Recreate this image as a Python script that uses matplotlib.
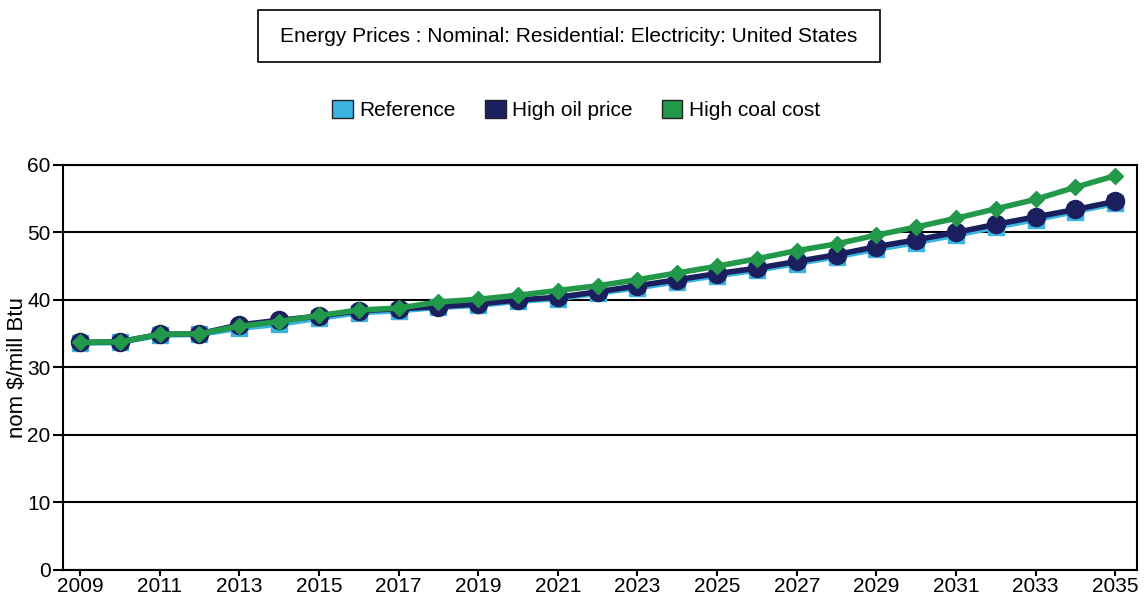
import matplotlib
matplotlib.use("Agg")
import matplotlib.pyplot as plt
from matplotlib import font_manager
from matplotlib.patches import Patch, Rectangle

plt.rcParams['font.family'] = ['Liberation Sans', 'DejaVu Sans']

# narrow face for the axis numbers if it is installed
installed = {f.name for f in font_manager.fontManager.ttflist}
if 'Liberation Sans Narrow' in installed:
    tick_font, tick_size = 'Liberation Sans Narrow', 17
else:
    tick_font, tick_size = 'Liberation Sans', 15

# Data (nom $/mill Btu)
years = list(range(2009, 2036))
reference = [33.6, 33.7, 34.8, 34.9, 35.8, 36.4, 37.3, 38.1, 38.4, 38.9, 39.2, 39.8, 40.2, 41.0,
             41.8, 42.7, 43.6, 44.4, 45.4, 46.4, 47.5, 48.5, 49.6, 50.8, 51.9, 53.1, 54.3]
high_oil = [33.7, 33.8, 34.9, 35.0, 36.3, 37.0, 37.6, 38.4, 38.7, 39.0, 39.4, 40.0, 40.4, 41.2,
            42.1, 43.0, 43.9, 44.7, 45.7, 46.7, 47.9, 48.9, 50.0, 51.2, 52.3, 53.4, 54.6]
high_coal = [33.7, 33.8, 34.9, 35.0, 36.1, 36.8, 37.7, 38.5, 38.8, 39.7, 40.1, 40.7, 41.4, 42.1,
             43.0, 44.0, 45.0, 46.1, 47.3, 48.3, 49.6, 50.8, 52.1, 53.5, 54.9, 56.7, 58.4]
series_names = ['Reference', 'High oil price', 'High coal cost']
colors = ['#3cb4e2', '#1b1f5e', '#22984a']

title = 'Energy Prices : Nominal: Residential: Electricity: United States'
ylabel = 'nom $/mill Btu'
xticks = years[::2]
yticks = [0, 10, 20, 30, 40, 50, 60]

fig = plt.figure(figsize=(11.44, 6.10), dpi=100)
ax = fig.add_axes([0.055, 0.0656, 0.939, 0.664])

ax.plot(years, reference, color=colors[0], lw=4, marker='s', ms=11, zorder=3)
ax.plot(years, high_oil, color=colors[1], lw=4, marker='o', ms=13, zorder=4)
ax.plot(years, high_coal, color=colors[2], lw=4, marker='D', ms=8, zorder=5)

ax.set_xlim(2008.57, 2035.55)
ax.set_ylim(0, 60)
ax.set_xticks(xticks)
ax.set_yticks(yticks)
ax.tick_params(axis='x', length=4, width=1.5, direction='out', pad=1)
ax.tick_params(axis='y', length=7, width=1.5, direction='out', pad=2)
for lab in ax.get_xticklabels() + ax.get_yticklabels():
    lab.set_fontfamily(tick_font)
    lab.set_fontsize(tick_size)
ax.yaxis.grid(True, color='black', lw=1.5)
ax.set_axisbelow(True)
for s in ax.spines.values():
    s.set_color('black')
    s.set_linewidth(1.5)
ax.set_ylabel(ylabel, fontsize=16, labelpad=-1)

# title box
fig.patches.append(Rectangle((258 / 1144, 1 - 62 / 610), 622 / 1144, 52 / 610,
                             transform=fig.transFigure, fill=False, ec='black', lw=1.2))
fig.text(569 / 1144, 1 - 36 / 610, title, ha='center', va='center', fontsize=15)

handles = [Patch(facecolor=c, edgecolor='#222222') for c in colors]
fig.legend(handles, series_names, loc='center', bbox_to_anchor=(576 / 1144, 1 - 110 / 610),
           ncol=3, frameon=False, fontsize=15, handlelength=1.0, handleheight=1.0,
           handletextpad=0.3, columnspacing=1.4)

fig.savefig('out.png', dpi=100)
